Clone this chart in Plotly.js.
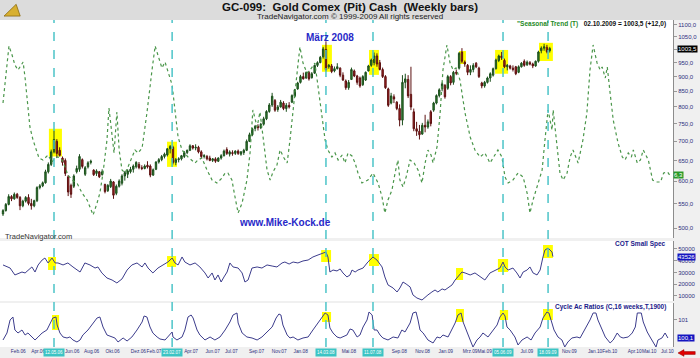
<!DOCTYPE html>
<html>
<head>
<meta charset="utf-8">
<script src="https://cdn.plot.ly/plotly-3.0.1.min.js"></script>
<style>html,body{margin:0;padding:0;background:#f0f0f0;}#chart{width:700px;height:358px;}</style>
</head>
<body>
<div id="chart"></div>
<script>
// ---------- DATA (weekly, week 0 = 06.01.2006) ----------
const open = [528,535,548,565,560,570,563,545,555,563,550,545,556,585,589,596,622,640,672,700,676,656,650,610,590,588,622,628,652,616,634,645,626,618,622,615,592,578,587,598,572,588,595,612,616,622,628,634,640,632,630,638,636,614,628,646,652,660,664,680,684,645,652,654,660,670,676,688,682,684,672,660,660,656,650,654,648,656,662,678,666,670,668,674,666,670,676,700,718,736,742,738,748,764,786,806,820,792,800,812,795,805,815,834,858,880,900,895,914,896,912,940,950,972,1000,935,938,920,928,930,905,885,862,890,920,902,895,872,888,920,940,950,975,950,925,900,858,812,832,815,795,760,880,890,840,785,735,728,720,745,740,785,790,812,836,858,870,860,900,880,915,930,990,952,940,915,925,948,930,878,868,880,895,905,928,958,975,958,935,938,930,935,915,935,955,942,950,945,938,955,995,1005,1008,995];
const high = [538,551,570,568,574,573,566,558,566,570,560,558,588,593,599,627,645,678,730,706,684,660,655,614,594,616,637,666,655,636,648,652,628,628,624,628,594,593,605,600,592,604,616,624,628,634,640,648,646,638,640,648,640,630,648,656,664,670,682,690,688,656,658,664,674,678,692,690,692,688,676,666,664,662,656,658,658,666,678,684,676,676,676,678,674,680,705,724,738,746,748,752,770,790,812,845,825,806,822,818,812,815,840,858,882,906,914,918,920,916,943,955,975,1010,1032,945,945,936,948,933,915,890,888,932,925,906,900,905,918,942,965,988,985,960,932,905,862,845,840,818,808,905,910,905,935,795,755,746,752,776,762,790,816,840,860,880,874,906,905,920,925,990,1005,958,945,940,948,952,935,882,885,900,915,932,965,980,990,965,945,942,940,938,940,952,962,958,956,950,958,995,1012,1022,1018,1010];
const low = [524,533,546,555,558,560,536,542,552,546,537,542,553,581,586,594,618,636,668,658,660,637,612,566,562,584,618,622,630,612,630,640,612,612,607,613,572,575,584,560,568,585,590,601,607,618,620,630,628,626,628,630,609,612,626,642,648,655,660,668,640,638,645,650,656,666,674,678,676,668,656,655,650,648,646,644,646,652,660,664,660,662,664,664,662,664,674,698,714,728,730,734,744,760,782,800,785,785,798,790,785,795,812,830,855,876,890,892,886,893,910,934,948,965,918,928,912,915,925,898,885,855,855,888,898,872,862,868,885,918,935,940,935,922,895,858,800,808,812,790,742,745,860,828,790,728,715,705,718,725,735,742,785,808,830,850,826,855,870,872,905,925,948,935,905,905,915,930,895,860,862,876,882,900,925,952,960,930,922,925,918,905,912,932,935,938,940,930,935,950,985,995,985,988];
const close = [535,548,565,560,570,563,545,555,563,550,545,556,585,589,596,622,640,672,705,668,663,645,618,575,570,612,630,660,635,632,644,648,615,624,610,622,576,590,600,568,588,600,612,620,624,628,636,645,632,630,636,634,614,627,646,652,660,666,680,686,645,652,654,662,670,676,688,682,684,672,660,662,654,650,654,648,656,662,674,668,672,668,674,668,672,676,700,718,735,742,738,748,764,786,806,834,790,800,815,795,805,800,836,855,878,900,892,914,892,910,940,950,970,1002,925,940,918,928,935,905,888,862,880,925,902,880,868,900,915,938,960,975,945,925,900,862,805,835,825,795,760,880,892,835,800,735,728,718,745,740,755,750,812,836,855,875,832,900,878,915,912,985,955,945,915,925,940,935,900,868,880,895,910,928,960,975,968,935,940,930,925,910,935,948,940,952,945,938,955,990,1005,1010,991.5,1003.5];
const lastDate = '02.10.2009';

const seasonalWeek = [0,1.1,2.1,3.2,4.2,5.3,6.4,7.1,7.8,8.5,9.5,10.6,12,12.7,14.1,15.9,17.3,18.4,19.4,20.8,21.9,22.9,24.4,26.1,27.9,29.7,30.7,31.8,33.2,34.2,35.3,36.7,37.4,38.5,39.2,40.2,41,42,43.1,44.1,45.5,46.6,47.7,49.1,50.8,51.9,52.6,53.7,54.7,56.1,57.2,58.2,59.7,60.7,61.8,63.2,65.3,67.8,68.8,70.2,72,73.8,75.5,77.3,78.4,79.4,80.8,81.9,83,84.4,86.1,87.2,88.2,89.7,90.7,91.8,93.2,94.3,95.3,96.7,97.8,99.2,100.3,101.3,102.4,103.8,104.8,105.9,107.3,108.4,110.1,110.8,112.6,113.7,114.7,116.1,117.2,118.3,119.7,120.7,121.8,123.2,124.3,125.3,126.7,127.8,128.8,130.6,132.4,133.8,134.8,135.9,137.3,138.4,139.4,140.1,141.2,142.3,143.7,145.1,146.5,147.9,149,150,151.1,151.8,153.2,154.3,155.3,156.7,157.8,158.9,159.9,161.3,163.1,164.9,166.6,168.4,170.1,171.9,173.3,174.7,176.1,177.2,178.3,180,181.8,183.6,185,186,187.1,188.5,190.3,191.3,192.4,193.8,194.2,195.6,196.6,197.7,199.1,200.2,201.2,203,204.7,206.1,207.2,208.3,209.7,210.8,211.5,212.6,213.3,214.3,215.4,217.1,218.6,219.6,220.7,221.8,222.5,223.9,225,226,227.8,229.3,230.7,232.1,233.2,234.6,235.3];
const seasonalValue = [135,168,192,183,173,168,173,176,160,138,111,98,85,80,78,83,76,80,81,78,71,63,58,55,45,38,31,23,35,45,65,98,130,101,85,126,88,68,65,71,80,88,85,90,125,153,168,192,183,170,176,166,153,128,101,88,81,75,78,80,68,58,55,60,65,65,58,41,25,35,58,85,128,111,126,101,68,58,66,73,88,80,75,98,125,165,191,175,165,168,175,161,125,98,88,81,85,78,83,75,85,82,75,65,55,57,58,65,55,41,25,38,48,65,78,58,51,61,78,75,68,55,75,88,83,75,91,125,168,193,175,168,170,158,125,101,88,81,85,75,81,88,81,61,55,58,65,61,45,25,38,51,68,98,128,108,128,91,65,58,65,81,88,75,98,125,168,193,175,168,171,160,171,145,118,95,81,78,85,81,88,75,78,88,78,58,56,56,65,66,63];

const cotWeek = [0,2.5,4.2,6.7,7.8,8.8,10.2,11.3,12.4,13.8,14.8,15.9,17.3,18.4,19.4,21.2,22.9,24.7,27.2,28.9,30.7,32.5,33.5,34.9,36.7,38.5,40.2,42,43.8,45.5,47.3,49.1,50.1,51.2,52.9,54.7,56.5,58.2,59.7,60.7,61.8,63.2,64.2,66,67.8,69.5,71.3,72.4,73.8,74.8,75.9,77,78,79.1,80.1,81.2,83,84.4,85.4,86.5,87.9,89.7,91.4,93.2,95,96.7,98.5,99.5,101,102.4,104.1,105.9,107.7,109.4,111.2,113,114,114.7,115.4,116.5,117.9,119,120,121.4,122.5,123.2,124.3,125.3,127.1,128.8,130.6,132,133.8,134.8,135.9,137.7,139.1,140.1,141.2,142.3,143.7,144.7,146.1,147.9,149,150,151.4,152.5,153.5,155,156,157.1,158.5,159.6,160.6,162,163.1,164.9,166.6,168.4,170.1,171.9,173.7,175.4,176.5,177.2,178.3,180,181.4,182.5,183.6,185,186,187.1,188.5,189.6,190.6,191.3,192.4,193.8,194.1];
const cotValue = [36400,33800,27900,30400,29600,32100,34700,30400,36400,40600,42300,38100,42300,38100,38100,36400,38100,34700,30400,38100,36400,33800,34700,29600,25300,23600,21100,24500,32100,36400,38100,34700,38100,33800,29600,33800,36400,38900,42300,38100,36400,43200,38900,36400,38100,34700,29600,25300,29600,23600,27900,21900,26200,30400,38100,34700,33800,29600,21900,23600,33800,34700,33800,36400,35500,34700,38100,38900,37200,38900,38100,39800,40600,43200,44900,46600,47400,43200,30400,32100,31300,33000,29600,26200,27900,32100,30400,32100,33800,38900,43200,40600,34700,26200,19400,16800,13400,16800,21900,20200,17700,10900,8300,6600,9100,10900,13400,15100,13400,16000,15100,16800,19400,23600,26200,30400,29600,27900,29600,26200,23600,29600,32100,33800,38900,34700,32100,33800,29600,25300,30400,32100,34700,29600,27900,32100,43200,49100,50800,47400,43526];

const cycleWeek = [0,1.4,2.5,3.5,4.2,5.3,6.7,7.8,8.8,10.2,11.3,12.4,13.8,15.5,16.6,17.6,18.7,19.1,20.1,21.2,22.6,23.6,24.7,26.1,27.2,28.2,30,31.8,33.2,34.2,35.3,36.7,38.5,39.5,40.6,42.4,43.8,45.5,47.3,49.1,49.8,50.8,51.9,52.9,54.4,55.4,57.2,58.2,59.7,60,61.4,63.2,64.2,65.3,66.4,67.1,68.5,69.5,71.3,73.1,74.8,76.6,78.4,80.1,81.2,82.6,83,84.4,86.1,87.9,89.7,91.4,93.2,95,96.4,97.4,98.1,98.8,100.3,101.3,102.4,104.1,105.9,107.7,109.4,111.2,112.6,113.7,114.7,115.4,116.5,117.9,119,120,121.4,122.5,123.5,125,126,127.1,128.5,129.2,130.3,131,132,133.1,134.1,135.9,137.7,139.4,140.8,141.9,143.7,144.7,145.8,146.5,147.2,148.3,150,151.8,153.2,154.3,155.3,157.1,158.5,159.6,160.6,161.7,162.4,163.8,164.9,165.9,167.3,168.4,169.4,171.2,173,174.4,175.4,176.5,177.2,177.9,179,180.7,181.8,183.2,185,186.4,187.8,189.6,190.6,192,192.7,193.8,194.5,195.9,197.3,198.3,199.4,200.8,202.6,203.7,204.7,206.1,207.2,208.3,209.3,210,211.4,212.6,214.3,215.4,216.8,217.9,218.9,220.7,222.1,223.2,223.9,225.3,226,227.4,228.4,229.5,230.5,231.2,232.6,233.7,234.7];
const cycleValue = [100,100.35,101,101.15,100.5,100.35,100.5,100.25,100.35,100.15,100,100.15,100.35,100.5,100.85,101.1,101.15,100.75,100.35,100.15,100.1,100.15,100,99.9,100,100.25,100.5,100.85,101.1,101.15,100.65,100.25,100.15,100.1,99.9,100.1,99.95,100.15,100.5,100.9,101.2,101.15,100.65,100.35,100.15,100.05,100,100.15,100.4,100.15,100,100.15,100.5,101.15,101.25,101.1,100.5,100.25,100,100.15,100,100.15,100.5,100.9,101.25,101.35,100.85,100.35,100.15,100.1,100,100.15,100.4,100.65,101.1,101.3,101.25,100.75,100.25,100.1,100.15,100,100.1,100.15,100.5,100.85,101.15,101.35,101.25,100.6,100.35,100.15,100.1,100.15,100.25,100.55,100.5,100.15,100.25,100.65,101,101.4,101.25,100.5,100.5,100.25,100.1,100,100.15,100.1,100.5,100.4,100.85,101.35,101.4,101,100.5,100.35,100,99.85,100.15,100.1,100.25,100.15,100.5,100.85,101.25,101.35,100.9,100.35,100,99.65,100,100.15,100.35,100.15,100.5,100.75,101.15,101.35,101.2,100.65,100.5,100.15,99.75,100,100.15,100,100.35,100.65,101.1,101.4,101.35,100.9,100.5,100.15,100,99.65,99.9,100.1,100.15,100.1,100.35,100.65,101,101.35,101.35,101,100.5,100.15,99.85,100,100.35,100.15,100.1,100.15,100.35,100.65,101.35,101.35,100.9,100.4,100.15,99.9,99.65,100,100.1,100.35,100.1];

const tickWeeks = [5.4,12.4,24.4,31.3,38.7,47.8,53.3,66.4,74,80.6,89.5,97.5,105.1,122.1,139.9,148.1,156.3,164.9,170,184.9,199.9,209,214.2,223,228.1,234.5];
const tickLabels = ['Feb.06','Apr.06','Jun.06','Aug.06','Okt.06','Dez.06','Feb.07','Apr.07','Jun.07','Jul.07','Sep.07','Nov.07','Jan.08','Mai.08','Sep.08','Nov.08','Jan.09','Mrz.09','Mai.09','Jul.09','Nov.09','Jan.10','Feb.10','Apr.10','Mai.10','Jul.10'];

const priceTicks = [500,550,600,650,700,750,800,850,900,950,1000,1050,1100];
const cotTicks = [10000,20000,30000,40000,50000];
const cycleTicks = [101];

const eventWeeks = [18,59.7,114,130.6,176.5,192.4];
const eventLabels = ['12.05.06','23.02.07','14.03.08','11.07.08','05.06.09','18.09.09'];

// highlighted ranges: [week from, week to, value from, value to]
const priceHighlights = [[16.2,20.8,660,735],[57.9,61.4,634,699],[112.6,116.1,917,1018],[129.2,132.7,906,998],[161,163.4,945,994],[173.7,178.3,910,998],[189.2,194.1,956,1026]];
const cotHighlights = [[15.9,18.7,32100,43200],[57.9,61.1,34700,44000],[112.3,115.8,38900,49100],[129.2,132.7,35500,45700],[159.9,162.4,23600,33800],[174.7,178.3,30400,41500],[190.6,194.1,42300,53400]];
const cycleHighlights = [[17.3,19.8,100.5,101.25],[112.6,115.8,100.9,101.4],[159.9,162.7,100.9,101.55],[175.4,178.3,101,101.5],[190.6,194.1,101,101.55]];

// ---------- CHART ----------
const FONT = 'Arial, "Liberation Sans", sans-serif';
const NAVY = '#2e2e7e';
const de = (v, d) => v.toFixed(d).replace('.', ',');
const weeks = close.map((_, i) => i);

const last = close[close.length - 1];
const prev = close[close.length - 2];

const traces = [
  {type:'scatter', mode:'lines', x:seasonalWeek, y:seasonalValue, xaxis:'x', yaxis:'y4',
   line:{color:'#4a964a', width:1.2, dash:'dot'}, hoverinfo:'skip'},
  {type:'candlestick', x:weeks, open:open, high:high, low:low, close:close, xaxis:'x', yaxis:'y',
   increasing:{line:{color:'#1c4f1c', width:1}, fillcolor:'#2f8030'},
   decreasing:{line:{color:'#5c1010', width:1}, fillcolor:'#a82222'},
   whiskerwidth:0, hoverinfo:'skip'},
  {type:'scatter', mode:'lines', x:cotWeek, y:cotValue, xaxis:'x', yaxis:'y2',
   line:{color:'#3c3c8c', width:1}, hoverinfo:'skip'},
  {type:'scatter', mode:'lines', x:cycleWeek, y:cycleValue, xaxis:'x', yaxis:'y3',
   line:{color:'#3c3c8c', width:1}, hoverinfo:'skip'}
];

const shapes = [];
// header band
shapes.push({type:'rect', xref:'paper', yref:'paper', x0:-0.01, x1:1.05, y0:1.0, y1:1.07,
  fillcolor:'#dcdcdc', line:{width:0}, layer:'below'});
const addBoxes = (arr, yref) => arr.forEach(b => shapes.push({type:'rect', xref:'x', yref:yref,
  x0:b[0], x1:b[1], y0:b[2], y1:b[3], fillcolor:'#ffff00', line:{width:0}, layer:'below'}));
addBoxes(priceHighlights, 'y');
addBoxes(cotHighlights, 'y2');
addBoxes(cycleHighlights, 'y3');
eventWeeks.forEach(w => shapes.push({type:'line', xref:'x', yref:'paper', x0:w, x1:w, y0:0, y1:1,
  line:{color:'#4cc4c8', width:1.5, dash:'dash'}, layer:'above'}));
// red arrow (bottom right)
shapes.push({type:'path', xref:'paper', yref:'paper',
  path:'M 1.0074,-0.0183 L 1.0163,-0.0080 L 1.0163,-0.0140 L 1.0330,-0.0140 L 1.0330,-0.0226 L 1.0163,-0.0226 L 1.0163,-0.0286 Z',
  fillcolor:'#e00000', line:{color:'#900000', width:0.5}});
// logo (sextant-like)
shapes.push({type:'path', xref:'paper', yref:'paper',
  path:'M 0.006,1.012 L 0.030,1.012 L 0.024,1.048 Z', fillcolor:'#d8b030', line:{color:'#8a6a10', width:0.8}});

const A = o => Object.assign({showarrow:false, yanchor:'middle'}, o);
const annotations = [
  A({xref:'paper', yref:'paper', x:0.52, y:1.0398, text:'<b>GC-099:\u00a0\u00a0Gold Comex (Pit) Cash\u00a0\u00a0(Weekly bars)</b>',
   font:{size:11.5, color:'#111111', family:FONT}}),
  A({xref:'paper', yref:'paper', x:0.52, y:1.0122, text:'TradeNavigator.com \u00a9 1999-2009 All rights reserved',
   font:{size:8, color:'#222222', family:FONT}}),
  A({xref:'paper', yref:'paper', x:0.9926, y:0.988, xanchor:'right',
   text:'<b><span style="color:#1f8a1f">"Seasonal Trend (T)</span>\u00a0\u00a0\u00a0' + lastDate + ' = ' + de(last,1) + ' (+' + de(last - prev,1) + ')</b>',
   font:{size:6.5, color:'#111111', family:FONT}}),
  A({xref:'paper', yref:'paper', x:0.9926, y:0.315, xanchor:'right', text:'<b>COT Small Spec</b>',
   font:{size:6.5, color:'#1a1a8a', family:FONT}}),
  A({xref:'paper', yref:'paper', x:0.9926, y:0.1223, xanchor:'right', text:'<b>Cycle Ac Ratios (C,16 weeks,T,1900)</b>',
   font:{size:6.5, color:'#1a1a8a', family:FONT}}),
  A({xref:'x', yref:'paper', x:115.5, y:0.945, text:'<b>M\u00e4rz 2008</b>',
   font:{size:10, color:'#2828c8', family:FONT}}),
  A({xref:'x', yref:'paper', x:99.5, y:0.382, text:'<b>www.Mike-Kock.de</b>',
   font:{size:10, color:'#2828c8', family:FONT}}),
  A({xref:'paper', yref:'paper', x:0.004, y:0.339, xanchor:'left', text:'TradeNavigator.com',
   font:{size:7.5, color:'#333333', family:FONT}}),
  A({xref:'paper', yref:'y', x:1, xanchor:'left', xshift:4, y:Math.log10(last), text:de(last,1),
   bgcolor:'#000000', borderpad:0, font:{size:6, color:'#ffffff', family:FONT}}),
  A({xref:'paper', yref:'y2', x:1, xanchor:'left', xshift:4, y:cotValue[cotValue.length-1], text:String(cotValue[cotValue.length-1]),
   bgcolor:'#1414c0', borderpad:0, font:{size:6, color:'#ffffff', family:FONT}}),
  A({xref:'paper', yref:'y3', x:1, xanchor:'left', xshift:4, y:cycleValue[cycleValue.length-1], text:de(cycleValue[cycleValue.length-1],1),
   bgcolor:'#1414c0', borderpad:0, font:{size:6, color:'#ffffff', family:FONT}}),
  A({xref:'paper', yref:'y4', x:1, xanchor:'left', xshift:0, y:seasonalValue[seasonalValue.length-1], text:de(seasonalValue[seasonalValue.length-1]/10,1),
   bgcolor:'#2a9a2a', borderpad:0, font:{size:6, color:'#ffffff', family:FONT}})
];
eventWeeks.forEach((w, i) => annotations.push({xref:'x', yref:'paper', x:w, y:0, yanchor:'top', yshift:-1,
  text:eventLabels[i], bgcolor:'#3cc4c4', borderpad:1, showarrow:false, font:{size:4.5, color:'#ffffff', family:FONT}}));

const yCommon = {side:'right', showgrid:false, zeroline:false, ticks:'outside', ticklen:3, tickcolor:'#999999',
  showline:true, linecolor:'#8c8c8c', linewidth:1, tickfont:{size:6, color:NAVY, family:FONT}, fixedrange:true};

const layout = {
  width:700, height:358,
  margin:{l:0, r:27, t:20, b:11, pad:0},
  paper_bgcolor:'#f0f0f0', plot_bgcolor:'#ffffff',
  showlegend:false,
  font:{family:FONT, size:7, color:NAVY},
  xaxis:{range:[-1.06, 236.5], anchor:'y3', rangeslider:{visible:false}, tickmode:'array',
    tickvals:tickWeeks, ticktext:tickLabels, tickangle:0, tickfont:{size:4.8, color:NAVY, family:FONT},
    showgrid:false, zeroline:false, ticks:'', showline:false, fixedrange:true, automargin:false},
  yaxis:Object.assign({}, yCommon, {domain:[0.3333, 1], type:'log', range:[Math.log10(481), Math.log10(1121)],
    tickmode:'array', tickvals:priceTicks, ticktext:priceTicks.map(v => de(v,1))}),
  yaxis2:Object.assign({}, yCommon, {domain:[0.1407, 0.3242], range:[5745, 56805],
    tickmode:'array', tickvals:cotTicks, ticktext:cotTicks.map(String)}),
  yaxis3:Object.assign({}, yCommon, {domain:[0, 0.1346], range:[99.65, 101.85],
    tickmode:'array', tickvals:cycleTicks, ticktext:cycleTicks.map(String)}),
  yaxis4:{overlaying:'y', anchor:'x', range:[0, 218], visible:false, fixedrange:true},
  shapes:shapes,
  annotations:annotations
};

Plotly.newPlot('chart', traces, layout, {displayModeBar:false, staticPlot:true});
</script>
</body>
</html>
